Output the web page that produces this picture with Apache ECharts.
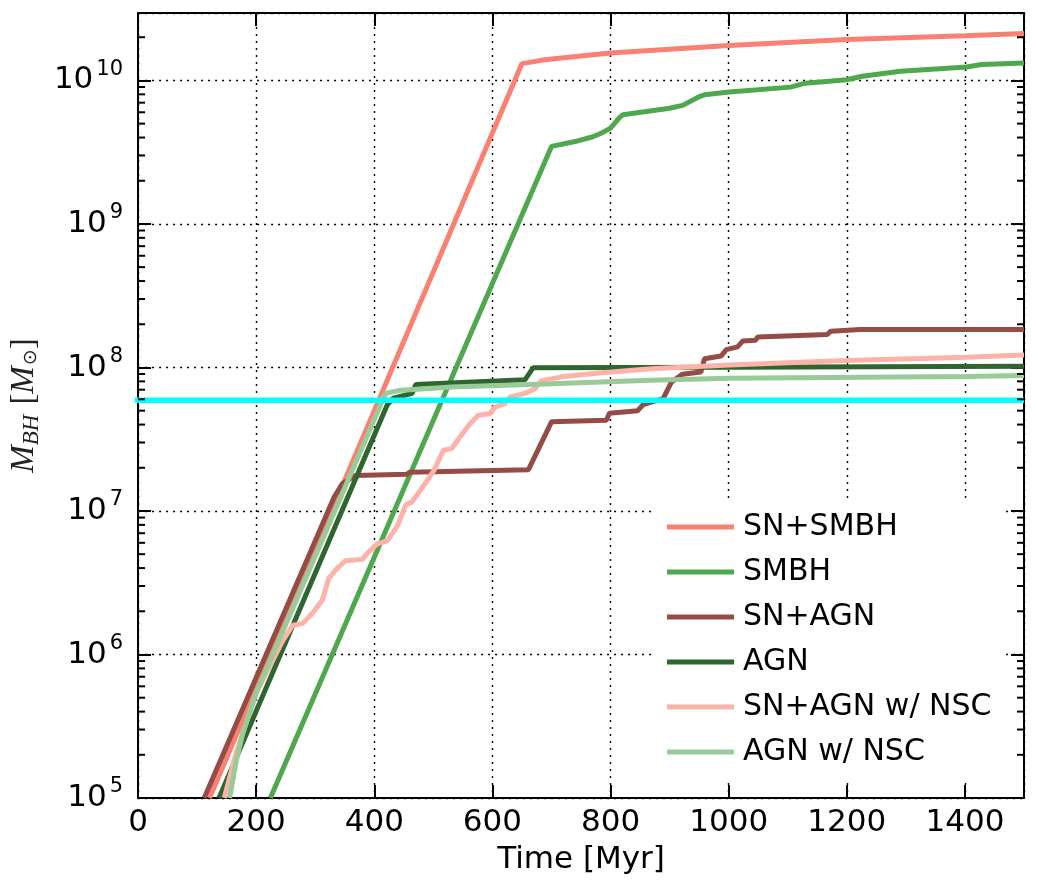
<!DOCTYPE html>
<html><head><meta charset="utf-8">
<script src="https://cdn.jsdelivr.net/npm/echarts@6/dist/echarts.min.js"></script>
<style>html,body{margin:0;padding:0;background:#fff}#c{width:1038px;height:882px}</style>
</head><body><div id="c"></div>
<script>
// ---- axis settings ----
const xMin = 0, xMax = 1500, xInterval = 200;
const yMin = 1e5, yMax = 2.95e10;
const minorMantissas = [2,3,4,5,6,7,8,9];
const decades = [5,6,7,8,9,10];

// ---- series names & colours ----
const names = ['SN+SMBH','SMBH','SN+AGN','AGN','SN+AGN w/ NSC','AGN w/ NSC'];
const colors = ['#fa8072','#50a84e','#964c46','#2f662f','#fdb2aa','#97cb97'];

// ---- data: time [Myr] and black hole mass [Msun] ----
const snSmbhT = [121, 650, 683, 700, 800, 1000, 1200, 1400, 1500];
const snSmbhM = [1e5, 1.31e10, 1.38e10, 1.41e10, 1.55e10, 1.75e10, 1.93e10, 2.05e10, 2.12e10];

const smbhT = [224, 700, 740, 770, 785, 800, 815, 821, 900, 922, 950, 959, 1001, 1105, 1130, 1200, 1226, 1291, 1403, 1428, 1500];
const smbhM = [1e5, 3.47e9, 3.75e9, 4.05e9, 4.3e9, 4.65e9, 5.5e9, 5.77e9, 6.4e9, 6.7e9, 7.7e9, 7.94e9, 8.3e9, 8.98e9, 9.57e9, 1.01e10, 1.07e10, 1.16e10, 1.24e10, 1.29e10, 1.32e10];

const snAgnT = [112, 332, 346, 368, 455, 460, 661, 700, 793, 798, 846, 855, 889, 903, 922, 953, 959, 987, 996, 1015, 1024, 1046, 1049, 1167, 1173, 1223, 1500];
const snAgnM = [1e5, 1.25e7, 1.55e7, 1.77e7, 1.8e7, 1.86e7, 1.94e7, 4.18e7, 4.29e7, 4.8e7, 5.0e7, 5.5e7, 6.07e7, 7.9e7, 8.98e7, 9.3e7, 1.15e8, 1.2e8, 1.33e8, 1.39e8, 1.53e8, 1.55e8, 1.63e8, 1.7e8, 1.79e8, 1.84e8, 1.84e8];

const agnT = [137, 422, 432, 464, 470, 655, 669, 1000, 1500];
const agnM = [1e5, 5.5e7, 6.1e7, 6.6e7, 7.6e7, 8.2e7, 9.96e7, 1.005e8, 1.02e8];

const snAgnNscT = [146, 165, 200, 245, 262, 278, 295, 312, 323, 337, 351, 380, 388, 405, 422, 436, 442, 453, 464, 484, 501, 517, 531, 545, 562, 576, 596, 604, 621, 630, 655, 672, 683, 717, 785, 801, 869, 1001, 1200, 1403, 1500];
const snAgnNscM = [1e5, 2.0e5, 5.4e5, 1.25e6, 1.6e6, 1.64e6, 1.93e6, 2.4e6, 3.4e6, 3.98e6, 4.5e6, 4.6e6, 5.06e6, 5.9e6, 6.2e6, 7.5e6, 8.4e6, 1.1e7, 1.16e7, 1.51e7, 1.92e7, 2.65e7, 2.72e7, 3.28e7, 4.06e7, 4.65e7, 4.76e7, 5.3e7, 5.6e7, 6.24e7, 6.6e7, 7.1e7, 8.1e7, 8.6e7, 9.2e7, 9.3e7, 9.8e7, 1.04e8, 1.12e8, 1.18e8, 1.22e8];

const agnNscT = [155, 166, 177, 200, 419, 441, 531, 700, 869, 1001, 1403, 1500];
const agnNscM = [1e5, 1.8e5, 2.8e5, 5.4e5, 6.6e7, 6.9e7, 7.3e7, 7.7e7, 8.15e7, 8.4e7, 8.65e7, 8.8e7];

// horizontal reference line (cyan)
const refT = [-17, 1500];
const refM = [5.9e7, 5.9e7];

const seriesT = [snSmbhT, smbhT, snAgnT, agnT, snAgnNscT, agnNscT];
const seriesM = [snSmbhM, smbhM, snAgnM, agnM, snAgnNscM, agnNscM];

const zip = (t, m) => t.map((v, i) => [v, m[i]]);

const FONT = 'DejaVu Sans';
const series = names.map((n, i) => ({
  name: n, type: 'line', data: zip(seriesT[i], seriesM[i]),
  showSymbol: false, symbol: 'none', animation: false,
  lineStyle: { color: colors[i], width: 5 }, itemStyle: { color: colors[i] }
}));
series.push({
  name: 'ref', type: 'line', data: zip(refT, refM), clip: false,
  showSymbol: false, symbol: 'none', z: 3,
  lineStyle: { color: '#00ffff', width: 5.5 }, itemStyle: { color: '#00ffff' }
});
// log-scale minor ticks on left & right spines
const minorVals = [];
decades.forEach(e => minorMantissas.forEach(m => { const v = m * Math.pow(10, e); if (v < yMax) minorVals.push([xMin, v]); }));
series.push({
  type: 'custom', silent: true, z: 6, clip: false, data: minorVals,
  renderItem: (params, api) => {
    const v = api.value(1);
    const pL = api.coord([xMin, v]), pR = api.coord([xMax, v]);
    return { type: 'group', children: [
      { type: 'line', shape: { x1: pL[0], y1: pL[1], x2: pL[0] + 7, y2: pL[1] }, style: { stroke: '#000', lineWidth: 2 } },
      { type: 'line', shape: { x1: pR[0] - 7, y1: pR[1], x2: pR[0], y2: pR[1] }, style: { stroke: '#000', lineWidth: 2 } }
    ]};
  }
});

const gridLine = { show: true, lineStyle: { color: '#000', width: 1.4, type: [2, 5] } };
const spine = { show: true, onZero: false, lineStyle: { color: '#000', width: 2 } };
const majorTick = { show: true, inside: true, length: 13, lineStyle: { color: '#000', width: 2 } };

const yLabelFmt = v => {
  const l = Math.log10(v), n = Math.round(l);
  if (Math.abs(l - n) > 1e-6) return '';
  return '{b|10}{e|' + n + '}';
};

const option = {
  animation: false,
  backgroundColor: '#fff',
  grid: { left: 135, right: 14, top: 13, bottom: 84, containLabel: false },
  legend: {
    data: names, orient: 'vertical', left: 653, top: 500,
    icon: 'rect', itemWidth: 67, itemHeight: 5, itemGap: 15,
    padding: [12, 12, 12, 14], backgroundColor: '#fff', selectedMode: false,
    textStyle: { fontFamily: FONT, fontSize: 30, lineHeight: 30, color: '#000', padding: [0, 0, 0, 4] }
  },
  xAxis: [{
    type: 'value', min: xMin, max: xMax, interval: xInterval, position: 'bottom',
    name: 'Time [Myr]', nameLocation: 'middle', nameGap: 46,
    nameTextStyle: { fontFamily: FONT, fontSize: 31, color: '#000' },
    axisLine: spine, axisTick: majorTick, splitLine: gridLine,
    axisLabel: { fontFamily: FONT, fontSize: 31, color: '#000', margin: 9, showMaxLabel: false, formatter: v => String(v) }
  }, {
    type: 'value', min: xMin, max: xMax, interval: xInterval, position: 'top',
    axisLine: spine, axisTick: majorTick, splitLine: { show: false }, axisLabel: { show: false }
  }],
  yAxis: [{
    type: 'log', logBase: 10, min: yMin, max: yMax, position: 'left',
    name: '{i|M}{s|BH}{l|[}{i|M}{o|⊙}{r|]}', nameLocation: 'middle', nameGap: 92,
    nameTextStyle: { rich: {
      i: { fontFamily: 'Liberation Serif', fontStyle: 'italic', fontSize: 33, color: '#222' },
      s: { fontFamily: 'Liberation Serif', fontStyle: 'italic', fontSize: 23, color: '#222', padding: [14, 0, 0, 0] },
      l: { fontFamily: 'Liberation Serif', fontSize: 33, color: '#222', padding: [0, 0, 0, 10] },
      r: { fontFamily: 'Liberation Serif', fontSize: 33, color: '#222' },
      o: { fontFamily: 'DejaVu Sans', fontSize: 19, color: '#222', padding: [14, 0, 0, 1] }
    } },
    axisLine: spine, axisTick: majorTick, splitLine: gridLine, minorTick: { show: false },
    axisLabel: { margin: 15, formatter: yLabelFmt, rich: {
      b: { fontFamily: FONT, fontSize: 31, lineHeight: 31, color: '#000' },
      e: { fontFamily: FONT, fontSize: 21, lineHeight: 21, color: '#000', padding: [0, 0, 22, 3] }
    } }
  }, {
    type: 'log', logBase: 10, min: yMin, max: yMax, position: 'right',
    axisLine: spine, axisTick: majorTick, splitLine: { show: false }, axisLabel: { show: false }
  }],
  series: series
};
const chart = echarts.init(document.getElementById('c'), null, { renderer: 'canvas' });
chart.setOption(option);
</script></body></html>
